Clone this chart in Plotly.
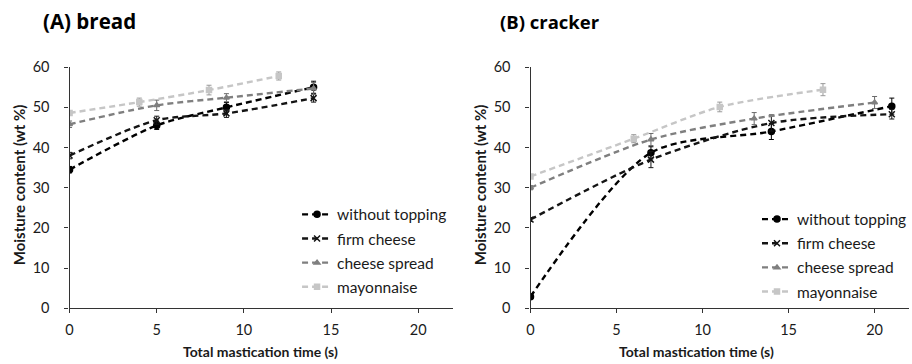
import plotly.graph_objects as go

# Moisture content of the bolus vs total mastication time
series_names = ["without topping", "firm cheese", "cheese spread", "mayonnaise"]

# (A) bread
bread_x = {
    "without topping": [0, 5, 9, 14],
    "firm cheese": [0, 5, 9, 14],
    "cheese spread": [0, 5, 9, 14],
    "mayonnaise": [0, 4, 8, 12],
}
bread_y = {
    "without topping": [34.5, 45.5, 50.0, 55.0],
    "firm cheese": [38.0, 46.8, 48.5, 52.3],
    "cheese spread": [45.8, 50.5, 52.4, 54.7],
    "mayonnaise": [48.6, 51.3, 54.3, 57.8],
}
bread_err = {
    "without topping": [0.8, 1.0, 1.2, 1.5],
    "firm cheese": [0.8, 1.0, 1.0, 1.0],
    "cheese spread": [0.8, 1.3, 1.0, 1.5],
    "mayonnaise": [0.6, 1.0, 1.2, 1.0],
}

# (B) cracker
cracker_x = {
    "without topping": [0, 7, 14, 21],
    "firm cheese": [0, 7, 14, 21],
    "cheese spread": [0, 7, 13, 20],
    "mayonnaise": [0, 6, 11, 17],
}
cracker_y = {
    "without topping": [2.9, 38.7, 44.0, 50.3],
    "firm cheese": [22.1, 37.0, 46.1, 48.3],
    "cheese spread": [30.0, 42.0, 47.2, 51.2],
    "mayonnaise": [32.8, 42.2, 50.1, 54.4],
}
cracker_err = {
    "without topping": [0.5, 1.5, 2.0, 2.0],
    "firm cheese": [0.5, 2.0, 2.0, 1.2],
    "cheese spread": [0.5, 1.5, 1.5, 1.5],
    "mayonnaise": [0.5, 1.0, 1.2, 1.5],
}

x_ticks = [0, 5, 10, 15, 20]
y_ticks = [0, 10, 20, 30, 40, 50, 60]

styles = {
    "without topping": dict(color="#000000", symbol="circle", size=6, err="#000000"),
    "firm cheese": dict(color="#141414", symbol="x-thin", size=6, err="#141414"),
    "cheese spread": dict(color="#7f7f7f", symbol="triangle-up", size=5, err="#6a6a6a"),
    "mayonnaise": dict(color="#c6c6c6", symbol="square", size=5, err="#9a9a9a"),
}

FONT = "Lato, Carlito, Calibri, sans-serif"
TITLE_FONT = "'Open Sans', sans-serif"
TXT = "#1a1a1a"

fig = go.Figure()


def add_panel(xs, ys, errs, xa, ya, legend):
    for name in series_names:
        st = styles[name]
        fig.add_trace(go.Scatter(
            x=xs[name], y=ys[name], name=name,
            mode="lines+markers",
            line=dict(color=st["color"], width=2.4, dash="6px,4px", shape="spline", smoothing=0.8),
            marker=dict(color=st["color"], symbol=st["symbol"], size=st["size"],
                        line=dict(color=st["color"], width=1.5)),
            error_y=dict(type="data", array=errs[name], visible=True,
                         color=st["err"], thickness=1, width=2.5),
            xaxis=xa, yaxis=ya, legend=legend, legendgroup=legend + name,
        ))


add_panel(bread_x, bread_y, bread_err, "x", "y", "legend")
add_panel(cracker_x, cracker_y, cracker_err, "x2", "y2", "legend2")

axis_common = dict(
    showline=True, linecolor="#333333", linewidth=1.3,
    ticks="outside", ticklen=4, tickcolor="#333333", tickwidth=1.2,
    showgrid=False, zeroline=False,
    tickfont=dict(family=FONT, size=14.5, color=TXT),
)

H = 364.0
W = 912.0
y_dom = [(H - 314) / H, (H - 61) / H]

legend_common = dict(
    bgcolor="rgba(0,0,0,0)", borderwidth=0,
    font=dict(family=FONT, size=15.5, color=TXT),
    tracegroupgap=1, itemwidth=30,
    xanchor="left", yanchor="top",
)

fig.update_layout(
    width=912, height=364,
    margin=dict(l=0, r=0, t=0, b=0),
    paper_bgcolor="white", plot_bgcolor="white",
    showlegend=True,
    xaxis=dict(domain=[66 / W, 452 / W], range=[0, 22], tickvals=x_ticks, anchor="y",
               ticklabelstandoff=4, **axis_common),
    yaxis=dict(domain=y_dom, range=[0, 60], tickvals=y_ticks, anchor="x",
               ticklabelstandoff=12, **axis_common),
    xaxis2=dict(domain=[530 / W, 911 / W], range=[0, 22], tickvals=x_ticks, anchor="y2",
                ticklabelstandoff=4, **axis_common),
    yaxis2=dict(domain=y_dom, range=[0, 60], tickvals=y_ticks, anchor="x2",
                ticklabelstandoff=12, **axis_common),
    legend=dict(x=295 / W, y=(H - 198) / H, **legend_common),
    legend2=dict(x=758 / W, y=(H - 203) / H, **legend_common),
)

annotations = [
    dict(text="<b>(A) bread</b>", x=37 / W, y=(H - 13) / H, xanchor="left", yanchor="middle",
         font=dict(family=TITLE_FONT, size=20.5, color="#000000")),
    dict(text="<b>(B) cracker</b>", x=497 / W, y=(H - 13) / H, xanchor="left", yanchor="middle",
         font=dict(family=TITLE_FONT, size=18.5, color="#000000")),
    dict(text="<b>Moisture content (wt %)</b>", x=16 / W, y=(H - 184) / H, textangle=-90,
         xanchor="center", yanchor="middle", font=dict(family=FONT, size=15, color=TXT)),
    dict(text="<b>Moisture content (wt %)</b>", x=480 / W, y=(H - 184) / H, textangle=-90,
         xanchor="center", yanchor="middle", font=dict(family=FONT, size=15, color=TXT)),
    dict(text="<b>Total mastication time (s)</b>", x=258 / W, y=0, yshift=-6,
         xanchor="center", yanchor="bottom", font=dict(family=FONT, size=14, color=TXT)),
    dict(text="<b>Total mastication time (s)</b>", x=697 / W, y=0, yshift=-6,
         xanchor="center", yanchor="bottom", font=dict(family=FONT, size=14, color=TXT)),
]
for a in annotations:
    a.update(xref="paper", yref="paper", showarrow=False)
fig.update_layout(annotations=annotations)

fig.write_html("out.html")
